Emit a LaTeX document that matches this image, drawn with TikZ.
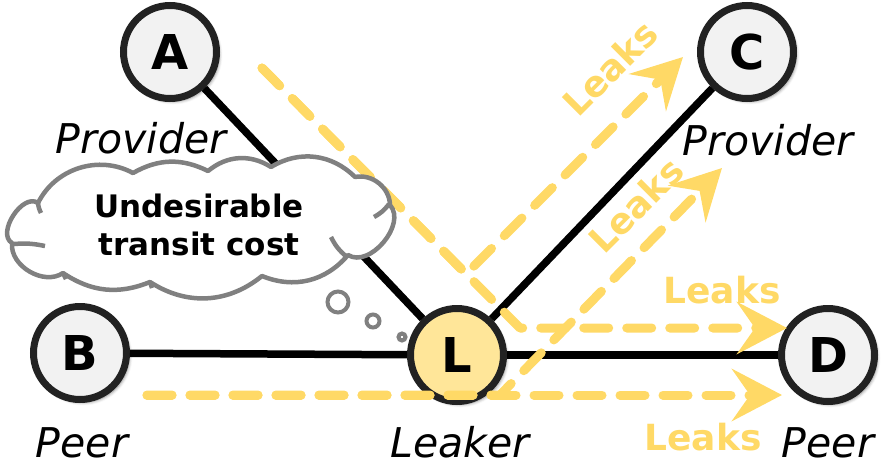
\documentclass[tikz,border=0pt]{standalone}
\usepackage{fontspec}
\setmainfont{DejaVu Sans}
\usetikzlibrary{arrows.meta,shadows.blur}

\definecolor{leakyellow}{HTML}{FFD966}
\definecolor{leakerfill}{HTML}{FFE699}
\definecolor{asfill}{HTML}{F2F2F2}
\definecolor{asborder}{HTML}{222222}
\definecolor{cloudgray}{HTML}{808080}

\tikzset{
  asnode/.style={circle, draw=asborder, line width=7pt, fill=asfill,
    minimum size=93pt, inner sep=0pt,
    font=\fontsize{48}{48}\selectfont\bfseries,
    blur shadow={shadow xshift=3pt, shadow yshift=-3pt,
      shadow blur radius=3pt, shadow opacity=45}},
  rolelabel/.style={anchor=base, inner sep=0pt,
    font=\fontsize{41}{41}\selectfont\itshape},
  peering/.style={line width=7.5pt, black},
  leakpath/.style={leakyellow, line width=9pt, line cap=round, line join=round,
    dash pattern=on 25pt off 18pt},
  leakarrow/.style={leakpath,
    -{Stealth[length=50pt, width=52pt, inset=18pt, fill=leakyellow]}},
  leaklabel/.style={inner sep=0pt, text=leakyellow,
    font=\fontsize{36}{36}\selectfont\bfseries},
  cloudline/.style={draw=cloudgray, line width=4.5pt, line join=round},
  bubble/.style={draw=cloudgray, fill=white, line width=4pt},
  cloudtext/.style={anchor=base, inner sep=0pt,
    font=\fontsize{31}{38}\selectfont\bfseries},
}

\begin{document}
\begin{tikzpicture}[x=1pt, y=-1pt]
  \useasboundingbox (0,0) rectangle (884,469);

  % autonomous systems
  \node[asnode] (A) at (170,52) {A};
  \node[asnode] (C) at (747,52) {C};
  \node[asnode] (B) at (80,353) {B};
  \node[asnode, fill=leakerfill] (L) at (457,355) {L};
  \node[asnode] (D) at (828,355) {D};

  % peering links
  \draw[peering] (A) -- (L);
  \draw[peering] (C) -- (L);
  \draw[peering] (B) -- (L);
  \draw[peering] (L) -- (D);

  % route leak paths
  \coordinate (fromA) at (262,68);
  \coordinate (fromB) at (147,395);
  \coordinate (bendAC) at (466,274);
  \coordinate (bendAD) at (520,328);
  \coordinate (bendBC) at (500,395);
  \coordinate (toCa) at (683,57);
  \coordinate (toCb) at (722,168);
  \coordinate (toDa) at (787,328);
  \coordinate (toDb) at (782,395);

  \draw[leakarrow] (fromA) -- (bendAD) -- (toDa);
  \draw[leakarrow] (fromA) -- (bendAC) -- (toCa);
  \draw[leakarrow] (fromB) -- (toDb);
  \draw[leakarrow] (fromB) -- (bendBC) -- (toCb);

  % transit cost thought cloud, one arc per puff
  \draw[cloudline, fill=white]
    (12,243) to[bend left=92] (38,203)
    to[bend left=46] (133,173)
    to[bend left=28] (208,171)
    to[bend left=36] (271,167)
    to[bend left=38] (355,177)
    to[bend left=50] (390,205)
    to[bend left=82] (348,255)
    to[bend left=36] (262,276)
    to[bend left=36] (150,282)
    to[bend left=28] (63,273)
    to[bend left=65] (12,243) -- cycle;
  % inner curls of the puffs
  \draw[cloudline] (14,244) to[bend left=8] (45,246);
  \draw[cloudline] (38,203) to[bend right=10] (41,213);
  \draw[cloudline] (389,204) to[bend left=12] (374,217);
  \draw[cloudline] (347,257) to[bend left=12] (331,237);
  \draw[cloudline] (150,282) -- (152,288);
  \draw[cloudline] (63,273) -- (66,279);
  \node[cloudtext] (cloudtop) at (199,217) {Undesirable};
  \node[cloudtext] (cloudbottom) at (199,255) {transit cost};
  \node[bubble, circle, minimum size=21pt, inner sep=0pt] (bubble1) at (338,302) {};
  \node[bubble, circle, minimum size=13pt, inner sep=0pt] (bubble2) at (373,321) {};
  \node[bubble, circle, minimum size=7pt, inner sep=0pt] (bubble3) at (402,337) {};

  % role labels
  \node[rolelabel] (roleA) at (141,153) {Provider};
  \node[rolelabel] (roleC) at (768,155) {Provider};
  \node[rolelabel] (roleB) at (82,457) {Peer};
  \node[rolelabel] (roleL) at (460,457) {Leaker};
  \node[rolelabel] (roleD) at (828,457) {Peer};

  % leak labels
  \node[leaklabel, rotate=45] (leak1) at (610,68) {Leaks};
  \node[leaklabel, rotate=45] (leak2) at (636,205) {Leaks};
  \node[leaklabel, anchor=base] (leak3) at (722,303) {Leaks};
  \node[leaklabel, anchor=base] (leak4) at (703,450) {Leaks};
\end{tikzpicture}
\end{document}
